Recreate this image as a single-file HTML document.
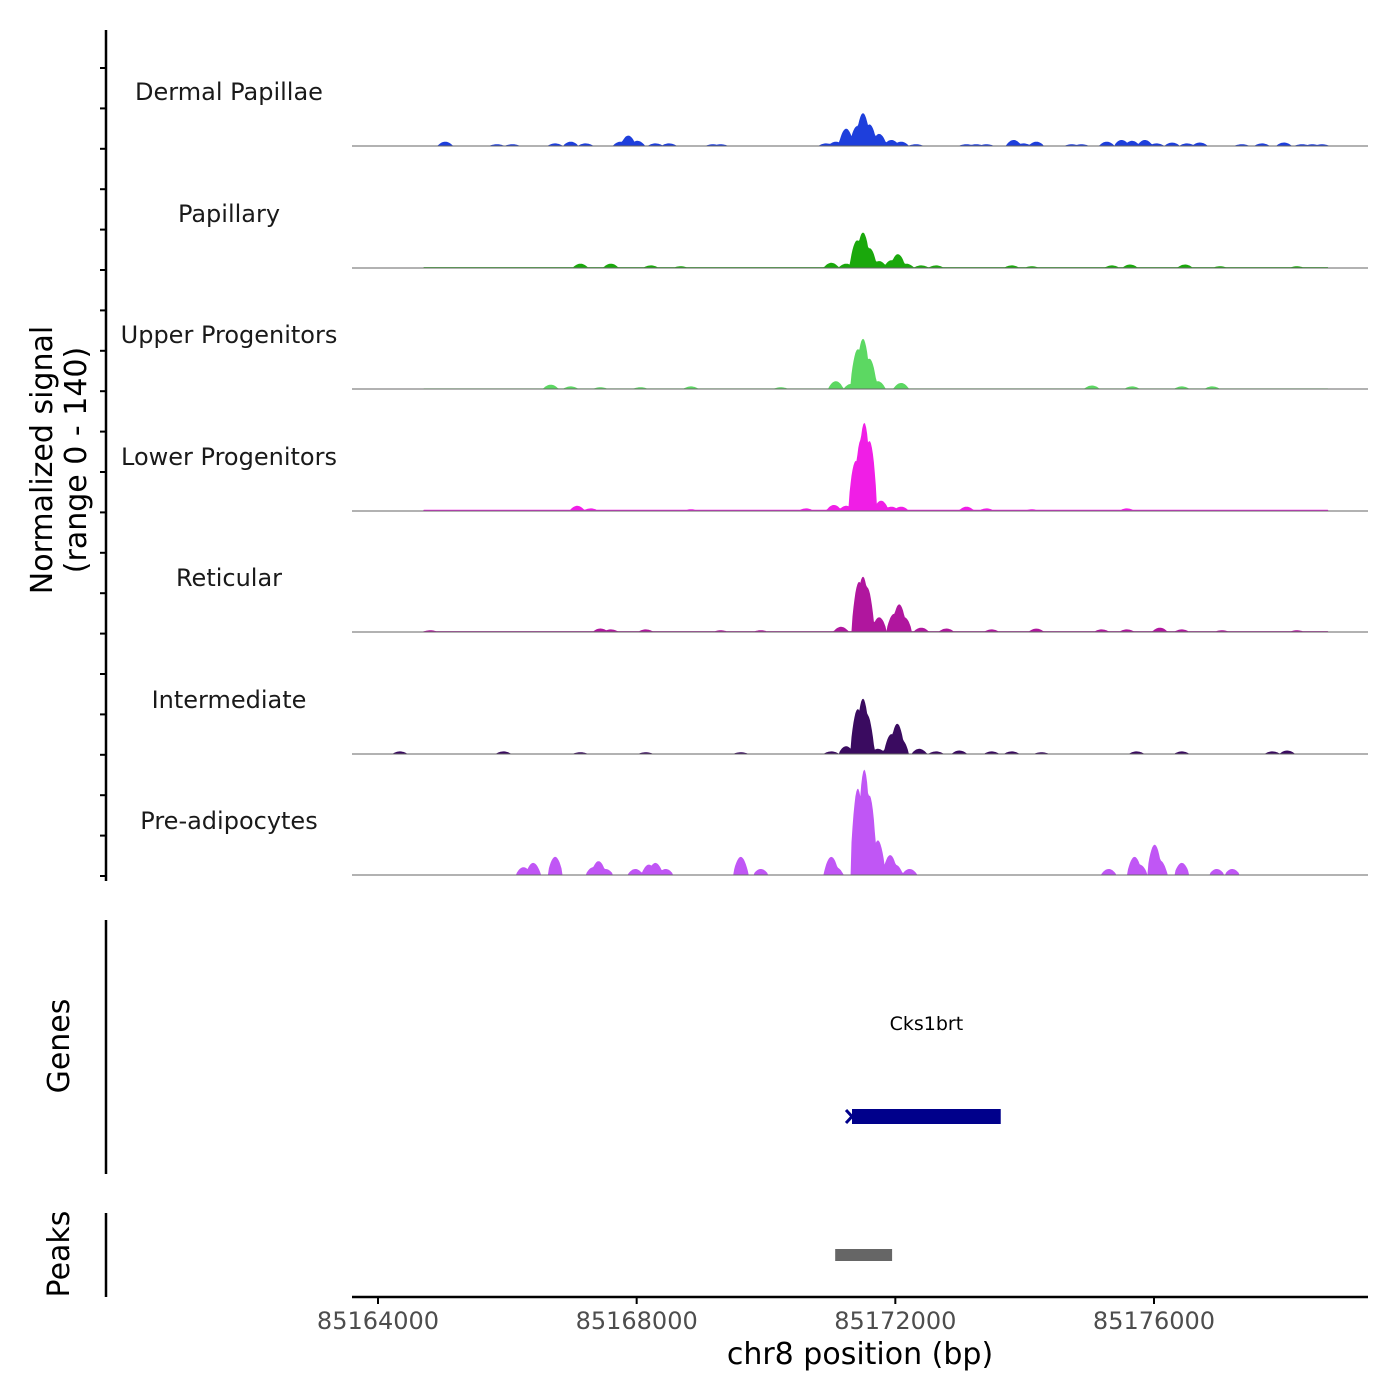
<!DOCTYPE html>
<html><head><meta charset="utf-8"><style>
html,body{margin:0;padding:0;background:#fff;}
svg{display:block;font-family:"DejaVu Sans","Liberation Sans",sans-serif;}
</style></head><body>
<svg id="chart" width="1400" height="1400">
<g id="tracks"></g>
<g id="axes"></g>
</svg>
<script>
const trackNames = ["Dermal Papillae","Papillary","Upper Progenitors","Lower Progenitors","Reticular","Intermediate","Pre-adipocytes"];
const trackColors = ["#1e3fdc","#1aa80c","#5cd862","#f01ee6","#b0169e","#3a0b60","#c056f5"];
const trackFloor = [0.5,1,0.7,1.5,1,0.5,0];
const dpPeaks = [[85165040,5],[85165840,2],[85166080,2],[85166740,3],[85166980,5],[85167210,3],[85167750,5],[85167870,12],[85168010,6],[85168290,3],[85168500,3],[85169180,2],[85169300,2],[85170930,3],[85171080,5],[85171240,20],[85171320,9],[85171410,23],[85171500,38],[85171600,25],[85171750,14],[85171940,7],[85172090,5],[85172320,2],[85173100,2],[85173250,2],[85173410,2],[85173830,7],[85173980,3],[85174180,5],[85174730,2],[85174880,2],[85175270,5],[85175500,7],[85175660,6],[85175860,7],[85176040,3],[85176280,4],[85176510,3],[85176710,4],[85177360,2],[85177670,3],[85178010,4],[85178290,2],[85178450,2],[85178600,2]];
const papPeaks = [[85167130,5],[85167600,5],[85168220,3],[85168680,2],[85171010,6],[85171240,5],[85171410,32],[85171500,41],[85171600,23],[85171750,8],[85171940,9],[85172040,16],[85172170,5],[85172400,3],[85172630,3],[85173800,3],[85174110,2],[85175350,3],[85175630,4],[85176480,4],[85177020,2],[85178210,2]];
const upPeaks = [[85166670,5],[85166980,3],[85167440,2],[85168060,2],[85168840,3],[85170230,2],[85171080,9],[85171320,6],[85171420,46],[85171500,58],[85171600,35],[85171730,9],[85172090,7],[85175040,4],[85175660,3],[85176430,3],[85176900,3]];
const lowPeaks = [[85167080,6],[85167290,3],[85168840,2],[85170620,3],[85171050,7],[85171240,6],[85171390,58],[85171470,83],[85171520,102],[85171600,81],[85171780,12],[85171940,5],[85172090,5],[85173100,5],[85173410,3],[85174110,2],[85175580,3]];
const retPeaks = [[85164810,2],[85167440,4],[85167600,3],[85168140,3],[85169300,2],[85169920,2],[85171160,6],[85171440,58],[85171500,64],[85171560,52],[85171750,17],[85171980,21],[85172060,32],[85172140,17],[85172400,5],[85172790,4],[85173490,3],[85174180,4],[85175190,3],[85175580,3],[85176090,5],[85176430,3],[85177050,2],[85178210,2]];
const intPeaks = [[85164340,3],[85165940,3],[85167130,2],[85168140,2],[85169610,2],[85171010,3],[85171240,9],[85171420,52],[85171500,64],[85171560,46],[85171730,6],[85171830,4],[85171940,23],[85172030,35],[85172090,17],[85172370,6],[85172630,3],[85172990,4],[85173490,3],[85173800,3],[85174260,2],[85175730,3],[85176430,3],[85177830,3],[85178060,4]];
const prePeaks = [[85166250,9],[85166400,14],[85166740,21],[85167330,9],[85167410,16],[85167520,7],[85167980,7],[85168190,12],[85168290,14],[85168450,7],[85169610,21],[85169920,7],[85171010,21],[85171080,9],[85171420,100],[85171520,122],[85171600,92],[85171730,40],[85171920,23],[85172000,12],[85172220,7],[85175300,7],[85175700,21],[85175780,12],[85176010,35],[85176090,17],[85176430,14],[85176970,7],[85177210,7]];
const trackPeaks = [dpPeaks,papPeaks,upPeaks,lowPeaks,retPeaks,intPeaks,prePeaks];
const xTicks = [85164000,85168000,85172000,85176000];
const geneName = "Cks1brt";
const geneStart = 85171330, geneEnd = 85173630;
const peakRegion = [85171070,85171950];
const yMax = 140;

const NS="http://www.w3.org/2000/svg";
function el(t,a,p){const e=document.createElementNS(NS,t);for(const k in a)e.setAttribute(k,a[k]);p.appendChild(e);return e;}
const x0=352,x1=1368;
function xs(bp){return 378+(bp-85164000)*(1154-378)/12000;}
const bpMin=85164000+(x0-378)*12000/776, bpMax=85164000+(x1-378)*12000/776;
const baselines=[146,268,389,511,632,754,875];
const trackH=121;
function ys(v,i){return baselines[i]-v/yMax*trackH;}
const tg=document.getElementById('tracks');
const ag=document.getElementById('axes');
const floorRange=[85164700,85178700];
trackNames.forEach((nm,i)=>{
  const peaks=trackPeaks[i];
  const hw=110, step=15;
  let d="M"+x0+","+baselines[i];
  for(let b=bpMin;b<=bpMax;b+=step){
    let v=(b>floorRange[0]&&b<floorRange[1])?trackFloor[i]:0;
    for(const p of peaks){const dd=Math.abs(b-p[0]);if(dd<hw){const r=dd/hw;const c=p[1]*(1-r*r*0.8);if(c>v)v=c;}}
    d+="L"+xs(b).toFixed(1)+","+ys(v,i).toFixed(1);
  }
  d+="L"+x1+","+baselines[i]+"Z";
  const a=el('path',{d:d,fill:trackColors[i],stroke:"none"},tg);
  
  
  const ln=el('line',{x1:x0,x2:x1,y1:baselines[i],y2:baselines[i],stroke:"#666",'stroke-width':1},tg);
  
  
  const t=el('text',{x:229,y:baselines[i]-46,'text-anchor':'middle','font-size':24,fill:'#1a1a1a'},tg);
  t.textContent=nm;
  
  
});
el('line',{x1:106,x2:106,y1:30,y2:881,stroke:'#000','stroke-width':2.5},ag);
for(let k=0;k<=20;k++){const y=68+k*40.4;el('line',{x1:100,x2:106,y1:y,y2:y,stroke:'#000','stroke-width':2},ag);}
const yl=el('text',{transform:'translate(52,460) rotate(-90)','text-anchor':'middle','font-size':30,fill:'#000'},ag);


yl.innerHTML='<tspan x="0" dy="0">Normalized signal</tspan><tspan x="0" dy="34">(range 0 - 140)</tspan>';
el('line',{x1:106,x2:106,y1:920,y2:1174,stroke:'#000','stroke-width':2.5},ag);
const gl=el('text',{transform:'translate(69,1046) rotate(-90)','text-anchor':'middle','font-size':30,fill:'#000'},ag);
gl.textContent='Genes';


el('line',{x1:106,x2:106,y1:1213,y2:1297,stroke:'#000','stroke-width':2.5},ag);
const pl=el('text',{transform:'translate(69,1254) rotate(-90)','text-anchor':'middle','font-size':30,fill:'#000'},ag);
pl.textContent='Peaks';


const gt=el('text',{x:xs((geneStart+geneEnd)/2),y:1030,'text-anchor':'middle','font-size':19,fill:'#000'},ag);
gt.textContent=geneName;


const gr=el('rect',{x:xs(geneStart),y:1109,width:xs(geneEnd)-xs(geneStart),height:15,fill:'#00008b'},ag);


el('path',{d:`M${xs(geneStart)-6},${1110}L${xs(geneStart)},${1116.5}L${xs(geneStart)-6},${1123}`,stroke:'#00008b','stroke-width':3,fill:'none'},ag);
const pr=el('rect',{x:xs(peakRegion[0]),y:1249,width:xs(peakRegion[1])-xs(peakRegion[0]),height:12,fill:'#666'},ag);


el('line',{x1:x0,x2:x1,y1:1297,y2:1297,stroke:'#000','stroke-width':2.5},ag);
xTicks.forEach(v=>{
  el('line',{x1:xs(v),x2:xs(v),y1:1297,y2:1304,stroke:'#000','stroke-width':2},ag);
  const t=el('text',{x:xs(v),y:1329,'text-anchor':'middle','font-size':24,fill:'#4d4d4d'},ag);
  t.textContent=v;
  
  
});
const xt=el('text',{x:860,y:1364,'text-anchor':'middle','font-size':30,fill:'#000'},ag);
xt.textContent='chr8 position (bp)';


</script>
</body></html>
